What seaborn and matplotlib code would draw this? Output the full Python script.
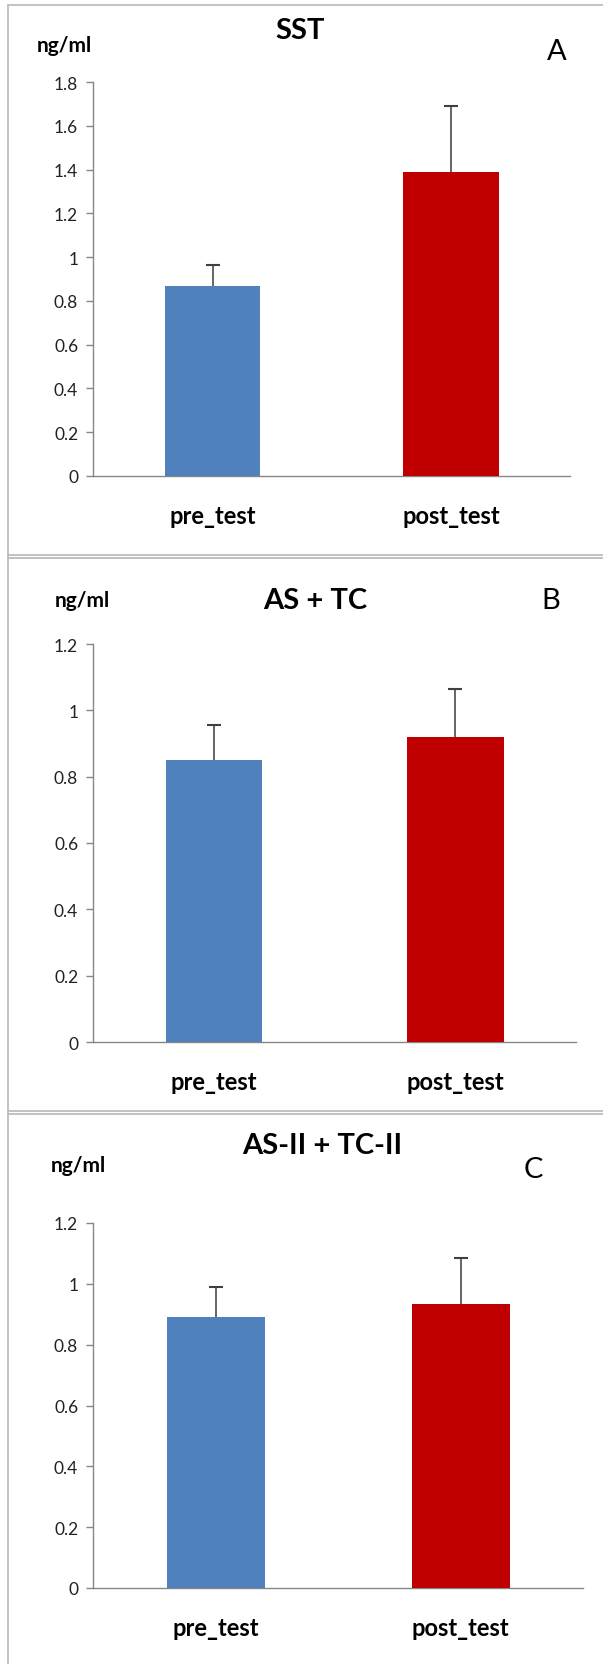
import matplotlib
matplotlib.use("Agg")
import matplotlib.pyplot as plt
import seaborn as sns
import pandas as pd
import numpy as np
from matplotlib.lines import Line2D

sns.set_theme(style="white")
plt.rcParams['font.family'] = ['Lato', 'DejaVu Sans']

# ---- data ----
categories = ["pre_test", "post_test"]
sst_means = [0.87, 1.39]
sst_err = [0.095, 0.30]
astc_means = [0.85, 0.92]
astc_err = [0.105, 0.145]
as2tc2_means = [0.89, 0.935]
as2tc2_err = [0.10, 0.15]
titles = ["SST", "AS + TC", "AS-II + TC-II"]
letters = ["A", "B", "C"]
ymaxes = [1.8, 1.2, 1.2]
ytick_sets = [[0, 0.2, 0.4, 0.6, 0.8, 1.0, 1.2, 1.4, 1.6, 1.8],
              [0, 0.2, 0.4, 0.6, 0.8, 1.0, 1.2],
              [0, 0.2, 0.4, 0.6, 0.8, 1.0, 1.2]]
ytick_labels = [["0", "0.2", "0.4", "0.6", "0.8", "1", "1.2", "1.4", "1.6", "1.8"],
                ["0", "0.2", "0.4", "0.6", "0.8", "1", "1.2"],
                ["0", "0.2", "0.4", "0.6", "0.8", "1", "1.2"]]
bar_colors = ["#4F81BD", "#C00000"]

W, H = 603, 1665
fig = plt.figure(figsize=(W / 100, H / 100), dpi=100)
fig.patch.set_facecolor("white")

def fx(x):
    return x / W

def fy(y):
    return 1 - y / H

# axes boxes in pixels: left, right, top(ymax), bottom(0)
boxes = [(93.5, 570, 83, 477), (93.5, 576, 645, 1043), (93.5, 583, 1224, 1589)]
title_pos = [(300, 31), (315, 601), (322, 1146)]
unit_pos = [(64, 46), (82, 601), (78, 1166)]
letter_pos = [(557, 52), (551, 601), (533, 1170)]

means_all = [sst_means, astc_means, as2tc2_means]
errs_all = [sst_err, astc_err, as2tc2_err]

axis_color = "#868686"

for i in range(3):
    l, r, t, b = boxes[i]
    ax = fig.add_axes([fx(l), fy(b), (r - l) / W, (b - t) / H])
    df = pd.DataFrame({"group": categories, "value": means_all[i]})
    sns.barplot(data=df, x="group", y="value", hue="group", palette=bar_colors,
                width=0.4, legend=False, ax=ax, zorder=3, edgecolor="none",
                saturation=1)
    xs = np.arange(len(categories))
    m = np.array(means_all[i])
    e = np.array(errs_all[i])
    ax.errorbar(xs, m, yerr=[np.zeros_like(e), e], fmt="none", ecolor="#595959",
                elinewidth=1.3, capsize=0, zorder=2)
    ax.plot(xs, m + e, linestyle="none", marker="_", markersize=10,
            markeredgewidth=1.5, color="#404040", zorder=2)
    ax.set_xlim(-0.5, 1.5)
    ax.set_ylim(0, ymaxes[i])
    ax.set_yticks(ytick_sets[i])
    ax.set_yticklabels(ytick_labels[i], fontsize=12.5, color="#222222")
    ax.set_xticks([-0.5, 0.5, 1.5])
    ax.set_xticklabels([])
    ax.set_xticks(xs, minor=True)
    ax.set_xticklabels(categories, minor=True, fontsize=17, fontweight="bold",
                       color="black")
    ax.tick_params(axis="x", which="major", direction="out", length=8,
                   color=axis_color, width=1)
    ax.tick_params(axis="x", which="minor", length=0, pad=20)
    ax.tick_params(axis="y", direction="out", length=5, color=axis_color,
                   width=1, pad=6, left=True)
    ax.set_xlabel("")
    ax.set_ylabel("")
    for s in ["top", "right"]:
        ax.spines[s].set_visible(False)
    for s in ["left", "bottom"]:
        ax.spines[s].set_color(axis_color)
        ax.spines[s].set_linewidth(1)
    ax.set_facecolor("white")
    ax.patch.set_alpha(0)

    tx, ty = title_pos[i]
    fig.text(fx(tx), fy(ty), titles[i], ha="center", va="center",
             fontsize=21, fontweight="bold", color="black")
    ux, uy = unit_pos[i]
    fig.text(fx(ux), fy(uy), "ng/ml", ha="center", va="center",
             fontsize=15, fontweight="bold", color="black")
    lx, ly = letter_pos[i]
    fig.text(fx(lx), fy(ly), letters[i], ha="center", va="center",
             fontsize=21, color="black")

# panel frame lines
frame_color = "#BDBDBD"
for yy in [6, 556, 559, 1112, 1115]:
    fig.add_artist(Line2D([fx(8), 1], [fy(yy), fy(yy)], color=frame_color,
                          linewidth=1.3, transform=fig.transFigure))
fig.add_artist(Line2D([fx(8), fx(8)], [fy(6), 0], color=frame_color,
                      linewidth=1.3, transform=fig.transFigure))

fig.savefig("out.png", dpi=100, facecolor="white")
